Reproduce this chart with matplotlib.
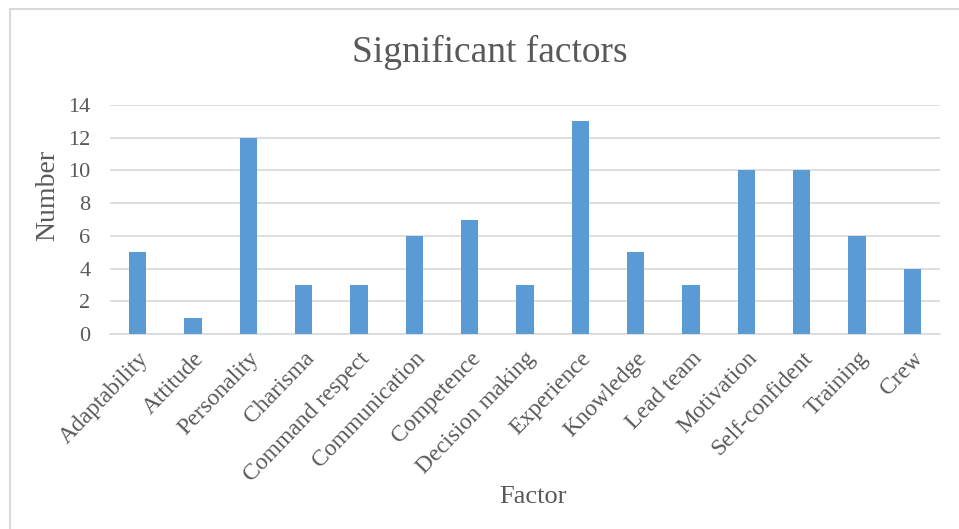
import matplotlib.pyplot as plt
from matplotlib.lines import Line2D

factores = ["Adaptability", "Attitude", "Personality", "Charisma", "Command respect",
            "Communication", "Competence", "Decision making", "Experience", "Knowledge",
            "Lead team", "Motivation", "Self-confident", "Training", "Crew"]
numero = [5, 1, 12, 3, 3, 6, 7, 3, 13, 5, 3, 10, 10, 6, 4]
ticks_y = [0, 2, 4, 6, 8, 10, 12, 14]

gris = "#595959"
plt.rcParams['font.family'] = ['Liberation Serif', 'DejaVu Serif']

fig = plt.figure(figsize=(9.59, 5.29), dpi=100)
ax = fig.add_axes([110/959, 1-334/529, 830/959, 229/529])

pos = list(range(len(factores)))
ax.bar(pos, numero, width=0.31, color="#5B9BD5", zorder=3)
ax.set_xlim(-0.5, len(factores) - 0.5)
ax.set_ylim(0, 14)
ax.set_yticks(ticks_y)
ax.set_xticks(pos)
ax.set_xticklabels(factores, rotation=46, ha="right", rotation_mode="anchor",
                   fontsize=17, color=gris)
ax.tick_params(axis="y", labelsize=16, labelcolor=gris, length=0, pad=14)
ax.tick_params(axis="x", length=0, pad=10)
ax.grid(axis="y", color="#D9D9D9", linewidth=1.2, zorder=0)
for s in ["top", "right", "left"]:
    ax.spines[s].set_visible(False)
ax.spines["bottom"].set_color("#D9D9D9")
ax.spines["bottom"].set_linewidth(1.2)

ax.set_ylabel("Number", fontsize=20, color=gris)
ax.yaxis.label.set_va("center")
ax.yaxis.set_label_coords((48 - 110) / 830, (334 - 195) / 229)
ax.set_xlabel("Factor", fontsize=19, color=gris)
ax.xaxis.label.set_va("center")
ax.xaxis.set_label_coords((533 - 110) / 830, (334 - 497) / 229)
fig.text(0.5 * (352 + 627) / 959, 1 - 52/529, "Significant factors",
         ha="center", va="center", fontsize=27, color=gris)

# borde del area del grafico
fig.add_artist(Line2D([10/959, 1], [1-9/529, 1-9/529], color="#D9D9D9", linewidth=1.5))
fig.add_artist(Line2D([10/959, 10/959], [0, 1-9/529], color="#D9D9D9", linewidth=1.5))

fig.savefig("out.png", dpi=100)
